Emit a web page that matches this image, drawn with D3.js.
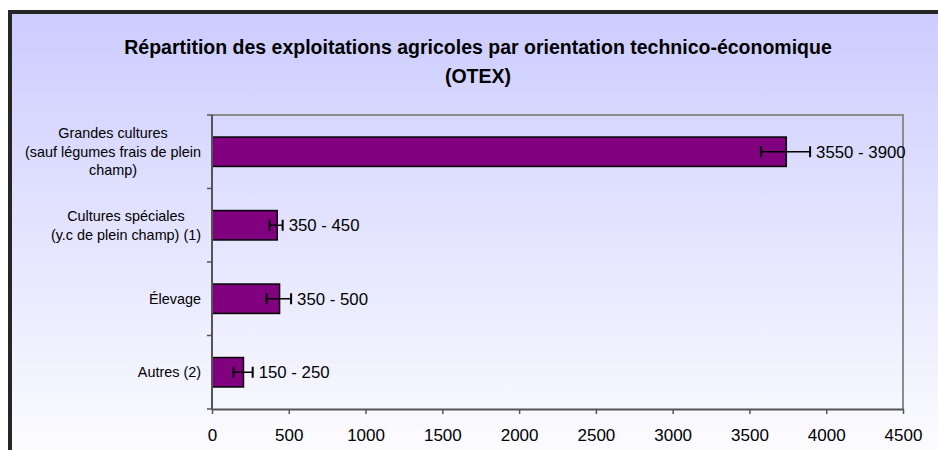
<!DOCTYPE html>
<html>
<head>
<meta charset="utf-8">
<script src="https://cdn.jsdelivr.net/npm/d3@7"></script>
<style>
  body { margin: 0; background: #fff; }
  svg text { font-family: Arial, "Liberation Sans", sans-serif; fill: #000; }
</style>
</head>
<body>
<div id="chart"></div>
<script>
// data
var categories = [
    ["Grandes cultures", "(sauf légumes frais de plein", "champ)"],
    ["Cultures spéciales", "(y.c de plein champ) (1)"],
    ["Élevage"],
    ["Autres (2)"]
];
var values = [3740, 425, 440, 205];
var errLow = [3575, 375, 355, 140];
var errHigh = [3895, 460, 515, 265];
var rangeLabels = ["3550 - 3900", "350 - 450", "350 - 500", "150 - 250"];
var xTicks = [0, 500, 1000, 1500, 2000, 2500, 3000, 3500, 4000, 4500];
var titleLines = ["Répartition des exploitations agricoles par orientation technico-économique", "(OTEX)"];

var _width = 938, _height = 450;
var plot = {left: 212, right: 903, top: 115, bottom: 409};

var svg = d3.select("#chart").append("svg")
    .attr("width", _width)
    .attr("height", _height);

var defs = svg.append("defs");
var grad = defs.append("linearGradient")
    .attr("id", "bg")
    .attr("x1", 0).attr("y1", 0).attr("x2", 0).attr("y2", 1);
grad.append("stop").attr("offset", "0%").attr("stop-color", "#ccccff");
grad.append("stop").attr("offset", "100%").attr("stop-color", "#ffffff");

// outer frame
svg.append("rect")
    .attr("x", 10).attr("y", 12)
    .attr("width", 940).attr("height", 470)
    .attr("fill", "url(#bg)")
    .attr("stroke", "#262626")
    .attr("stroke-width", 4);

// title
svg.selectAll("text.title")
    .data(titleLines)
    .enter().append("text")
    .attr("class", "title")
    .attr("x", 478)
    .attr("y", function(d, i) { return 54 + i * 29; })
    .attr("text-anchor", "middle")
    .style("font-size", "19.5px")
    .style("font-weight", "bold")
    .text(function(d) { return d; });

var x = d3.scaleLinear().domain([0, 4500]).range([plot.left, plot.right]);
var y = d3.scaleBand().domain(d3.range(categories.length)).range([plot.top, plot.bottom]).padding(0);
var barH = y.bandwidth() * 0.4;

// plot area border (top, right)
svg.append("path")
    .attr("d", "M" + plot.left + "," + plot.top + "H" + plot.right + "V" + plot.bottom)
    .attr("fill", "none")
    .attr("stroke", "#8c8c8c")
    .attr("stroke-width", 2);

// bars
svg.selectAll("rect.bar")
    .data(values)
    .enter().append("rect")
    .attr("class", "bar")
    .attr("x", x(0))
    .attr("y", function(d, i) { return y(i) + (y.bandwidth() - barH) / 2; })
    .attr("width", function(d) { return x(d) - x(0); })
    .attr("height", barH)
    .attr("fill", "#800080")
    .attr("stroke", "#000")
    .attr("stroke-width", 1.5);

// error bars
var capH = 11;
var err = svg.selectAll("g.err")
    .data(values)
    .enter().append("g")
    .attr("class", "err")
    .attr("transform", function(d, i) { return "translate(0," + (y(i) + y.bandwidth() / 2) + ")"; });
err.append("line")
    .attr("x1", function(d, i) { return x(errLow[i]); })
    .attr("x2", function(d, i) { return x(errHigh[i]); })
    .attr("stroke", "#000").attr("stroke-width", 1.5);
err.append("line")
    .attr("x1", function(d, i) { return x(errLow[i]); })
    .attr("x2", function(d, i) { return x(errLow[i]); })
    .attr("y1", -capH / 2).attr("y2", capH / 2)
    .attr("stroke", "#000").attr("stroke-width", 2);
err.append("line")
    .attr("x1", function(d, i) { return x(errHigh[i]); })
    .attr("x2", function(d, i) { return x(errHigh[i]); })
    .attr("y1", -capH / 2).attr("y2", capH / 2)
    .attr("stroke", "#000").attr("stroke-width", 2);
err.append("text")
    .attr("x", function(d, i) { return x(errHigh[i]) + 6; })
    .attr("dy", "0.35em")
    .style("font-size", "16.8px")
    .text(function(d, i) { return rangeLabels[i]; });

// x axis
var xAxis = svg.append("g")
    .attr("transform", "translate(0," + plot.bottom + ")")
    .call(d3.axisBottom(x).tickValues(xTicks).tickSize(5).tickSizeOuter(0).tickFormat(d3.format("d")));
xAxis.select(".domain").attr("stroke", "#555").attr("stroke-width", 2);
xAxis.selectAll(".tick line").attr("stroke", "#555").attr("stroke-width", 1.5);
xAxis.selectAll(".tick text")
    .attr("y", 20)
    .attr("dy", "0.71em")
    .attr("fill", "#000")
    .style("font-size", "17px")
    .style("font-family", "Arial, 'Liberation Sans', sans-serif");

// y axis line + ticks at band boundaries
svg.append("line")
    .attr("x1", plot.left).attr("x2", plot.left)
    .attr("y1", plot.top).attr("y2", plot.bottom)
    .attr("stroke", "#555").attr("stroke-width", 2);
svg.selectAll("line.ytick")
    .data(d3.range(categories.length + 1))
    .enter().append("line")
    .attr("class", "ytick")
    .attr("x1", plot.left - 5).attr("x2", plot.left)
    .attr("y1", function(d) { return plot.top + d * y.step(); })
    .attr("y2", function(d) { return plot.top + d * y.step(); })
    .attr("stroke", "#555").attr("stroke-width", 1.5);

// category labels (lines centred, block right-aligned)
var lineH = 18.5;
categories.forEach(function(lines, i) {
    var g = svg.append("g");
    var cy = y(i) + y.bandwidth() / 2;
    var texts = g.selectAll("text")
        .data(lines)
        .enter().append("text")
        .attr("text-anchor", "middle")
        .attr("y", function(d, j) { return cy + (j - (lines.length - 1) / 2) * lineH; })
        .attr("dy", "0.35em")
        .style("font-size", "14.4px")
        .text(function(d) { return d; });
    var maxW = 0;
    texts.each(function() { maxW = Math.max(maxW, this.getComputedTextLength()); });
    texts.attr("x", 201 - maxW / 2);
});
</script>
</body>
</html>
